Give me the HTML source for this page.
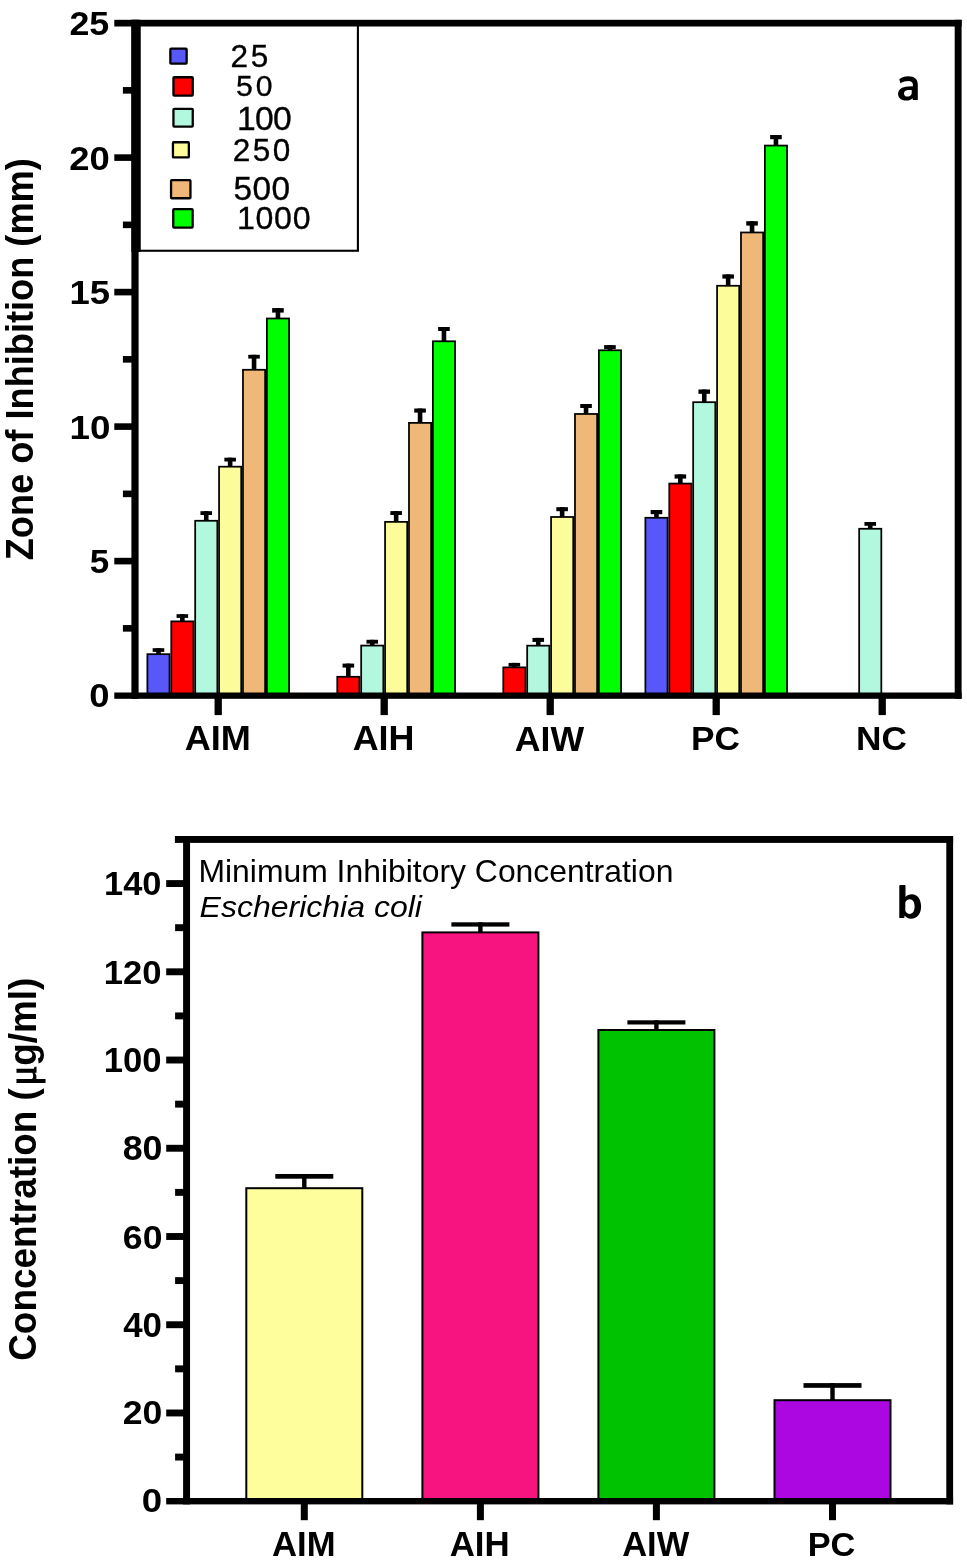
<!DOCTYPE html>
<html><head><meta charset="utf-8"><style>
html,body{margin:0;padding:0;background:#fff;}
svg{display:block;will-change:transform;font-family:"Liberation Sans",sans-serif;}
</style></head><body>
<svg width="967" height="1568" viewBox="0 0 967 1568">
<rect x="0" y="0" width="967" height="1568" fill="#fff"/>
<rect x="156.15" y="648.20" width="4.60" height="6.10" fill="#000"/>
<rect x="152.65" y="648.20" width="11.60" height="3.70" fill="#000"/>
<rect x="147.38" y="654.17" width="22.15" height="42.30" fill="#5757fa" stroke="#000" stroke-width="1.75"/>
<rect x="180.05" y="614.20" width="4.60" height="7.30" fill="#000"/>
<rect x="176.55" y="614.20" width="11.60" height="3.70" fill="#000"/>
<rect x="171.28" y="621.38" width="22.15" height="75.10" fill="#ff0000" stroke="#000" stroke-width="1.75"/>
<rect x="203.95" y="511.20" width="4.60" height="9.70" fill="#000"/>
<rect x="200.45" y="511.20" width="11.60" height="3.80" fill="#000"/>
<rect x="195.18" y="520.77" width="22.15" height="175.70" fill="#b2f8de" stroke="#000" stroke-width="1.75"/>
<rect x="227.85" y="457.70" width="4.60" height="9.10" fill="#000"/>
<rect x="224.35" y="457.70" width="11.60" height="3.80" fill="#000"/>
<rect x="219.07" y="466.68" width="22.15" height="229.80" fill="#fdfc9b" stroke="#000" stroke-width="1.75"/>
<rect x="251.75" y="354.80" width="4.60" height="15.10" fill="#000"/>
<rect x="248.25" y="354.80" width="11.60" height="3.80" fill="#000"/>
<rect x="242.97" y="369.77" width="22.15" height="326.70" fill="#f0b878" stroke="#000" stroke-width="1.75"/>
<rect x="275.65" y="308.10" width="4.60" height="10.50" fill="#000"/>
<rect x="272.15" y="308.10" width="11.60" height="4.50" fill="#000"/>
<rect x="266.88" y="318.48" width="22.15" height="378.00" fill="#00ff00" stroke="#000" stroke-width="1.75"/>
<rect x="346.05" y="663.60" width="4.60" height="13.30" fill="#000"/>
<rect x="342.55" y="663.60" width="11.60" height="4.00" fill="#000"/>
<rect x="337.27" y="676.77" width="22.15" height="19.70" fill="#ff0000" stroke="#000" stroke-width="1.75"/>
<rect x="369.95" y="639.80" width="4.60" height="5.90" fill="#000"/>
<rect x="366.45" y="639.80" width="11.60" height="3.80" fill="#000"/>
<rect x="361.18" y="645.58" width="22.15" height="50.90" fill="#b2f8de" stroke="#000" stroke-width="1.75"/>
<rect x="393.85" y="511.10" width="4.60" height="10.90" fill="#000"/>
<rect x="390.35" y="511.10" width="11.60" height="3.90" fill="#000"/>
<rect x="385.07" y="521.88" width="22.15" height="174.60" fill="#fdfc9b" stroke="#000" stroke-width="1.75"/>
<rect x="417.75" y="408.50" width="4.60" height="14.50" fill="#000"/>
<rect x="414.25" y="408.50" width="11.60" height="4.10" fill="#000"/>
<rect x="408.98" y="422.88" width="22.15" height="273.60" fill="#f0b878" stroke="#000" stroke-width="1.75"/>
<rect x="441.65" y="327.00" width="4.60" height="14.40" fill="#000"/>
<rect x="438.15" y="327.00" width="11.60" height="4.00" fill="#000"/>
<rect x="432.88" y="341.27" width="22.15" height="355.20" fill="#00ff00" stroke="#000" stroke-width="1.75"/>
<rect x="512.05" y="662.90" width="4.60" height="4.60" fill="#000"/>
<rect x="508.55" y="662.90" width="11.60" height="3.70" fill="#000"/>
<rect x="503.28" y="667.38" width="22.15" height="29.10" fill="#ff0000" stroke="#000" stroke-width="1.75"/>
<rect x="535.95" y="637.90" width="4.60" height="7.90" fill="#000"/>
<rect x="532.45" y="637.90" width="11.60" height="4.00" fill="#000"/>
<rect x="527.18" y="645.67" width="22.15" height="50.80" fill="#b2f8de" stroke="#000" stroke-width="1.75"/>
<rect x="559.85" y="507.20" width="4.60" height="9.90" fill="#000"/>
<rect x="556.35" y="507.20" width="11.60" height="4.00" fill="#000"/>
<rect x="551.08" y="516.98" width="22.15" height="179.50" fill="#fdfc9b" stroke="#000" stroke-width="1.75"/>
<rect x="583.75" y="404.00" width="4.60" height="10.10" fill="#000"/>
<rect x="580.25" y="404.00" width="11.60" height="4.00" fill="#000"/>
<rect x="574.98" y="413.98" width="22.15" height="282.50" fill="#f0b878" stroke="#000" stroke-width="1.75"/>
<rect x="607.65" y="345.10" width="4.60" height="5.30" fill="#000"/>
<rect x="604.15" y="345.10" width="11.60" height="3.90" fill="#000"/>
<rect x="598.88" y="350.27" width="22.15" height="346.20" fill="#00ff00" stroke="#000" stroke-width="1.75"/>
<rect x="654.15" y="510.00" width="4.60" height="7.90" fill="#000"/>
<rect x="650.65" y="510.00" width="11.60" height="4.20" fill="#000"/>
<rect x="645.38" y="517.77" width="22.15" height="178.70" fill="#5757fa" stroke="#000" stroke-width="1.75"/>
<rect x="678.05" y="474.40" width="4.60" height="9.30" fill="#000"/>
<rect x="674.55" y="474.40" width="11.60" height="4.20" fill="#000"/>
<rect x="669.27" y="483.57" width="22.15" height="212.90" fill="#ff0000" stroke="#000" stroke-width="1.75"/>
<rect x="701.95" y="389.50" width="4.60" height="12.80" fill="#000"/>
<rect x="698.45" y="389.50" width="11.60" height="4.30" fill="#000"/>
<rect x="693.17" y="402.18" width="22.15" height="294.30" fill="#b2f8de" stroke="#000" stroke-width="1.75"/>
<rect x="725.85" y="274.40" width="4.60" height="11.50" fill="#000"/>
<rect x="722.35" y="274.40" width="11.60" height="4.20" fill="#000"/>
<rect x="717.08" y="285.77" width="22.15" height="410.70" fill="#fdfc9b" stroke="#000" stroke-width="1.75"/>
<rect x="749.75" y="221.20" width="4.60" height="11.40" fill="#000"/>
<rect x="746.25" y="221.20" width="11.60" height="4.40" fill="#000"/>
<rect x="740.98" y="232.47" width="22.15" height="464.00" fill="#f0b878" stroke="#000" stroke-width="1.75"/>
<rect x="773.65" y="135.00" width="4.60" height="10.70" fill="#000"/>
<rect x="770.15" y="135.00" width="11.60" height="4.20" fill="#000"/>
<rect x="764.88" y="145.57" width="22.15" height="550.90" fill="#00ff00" stroke="#000" stroke-width="1.75"/>
<rect x="867.95" y="522.00" width="4.60" height="6.90" fill="#000"/>
<rect x="864.45" y="522.00" width="11.60" height="3.80" fill="#000"/>
<rect x="859.17" y="528.77" width="22.15" height="167.70" fill="#b2f8de" stroke="#000" stroke-width="1.75"/>
<rect x="114.30" y="19.80" width="847.30" height="6.70" fill="#000"/>
<rect x="131.40" y="19.80" width="7.20" height="679.00" fill="#000"/>
<rect x="954.70" y="19.80" width="6.90" height="679.00" fill="#000"/>
<rect x="114.30" y="692.50" width="847.30" height="6.30" fill="#000"/>
<rect x="114.30" y="557.80" width="18.00" height="6.60" fill="#000"/>
<rect x="114.30" y="423.30" width="18.00" height="6.60" fill="#000"/>
<rect x="114.30" y="288.80" width="18.00" height="6.60" fill="#000"/>
<rect x="114.30" y="154.30" width="18.00" height="6.60" fill="#000"/>
<rect x="122.90" y="625.05" width="9.00" height="6.60" fill="#000"/>
<rect x="122.90" y="490.55" width="9.00" height="6.60" fill="#000"/>
<rect x="122.90" y="356.05" width="9.00" height="6.60" fill="#000"/>
<rect x="122.90" y="221.55" width="9.00" height="6.60" fill="#000"/>
<rect x="122.90" y="87.05" width="9.00" height="6.60" fill="#000"/>
<rect x="214.55" y="698.00" width="7.30" height="17.10" fill="#000"/>
<rect x="380.55" y="698.00" width="7.30" height="17.10" fill="#000"/>
<rect x="546.55" y="698.00" width="7.30" height="17.10" fill="#000"/>
<rect x="712.55" y="698.00" width="7.30" height="17.10" fill="#000"/>
<rect x="878.55" y="698.00" width="7.30" height="17.10" fill="#000"/>
<text transform="translate(69.45,34.76) scale(1.0594,1)" font-size="33.80" font-weight="bold" font-style="normal">25</text>
<text transform="translate(69.23,169.86) scale(1.0866,1)" font-size="33.52" font-weight="bold" font-style="normal">20</text>
<text transform="translate(69.43,304.26) scale(1.0818,1)" font-size="33.71" font-weight="bold" font-style="normal">15</text>
<text transform="translate(69.41,439.17) scale(1.1029,1)" font-size="33.38" font-weight="bold" font-style="normal">10</text>
<text transform="translate(89.65,573.16) scale(1.0338,1)" font-size="33.86" font-weight="bold" font-style="normal">5</text>
<text transform="translate(89.24,706.57) scale(1.0911,1)" font-size="33.38" font-weight="bold" font-style="normal">0</text>
<text transform="translate(184.70,750.40) scale(1.0569,1)" font-size="34.20" font-weight="bold" font-style="normal">AIM</text>
<text transform="translate(352.70,750.40) scale(1.0493,1)" font-size="34.20" font-weight="bold" font-style="normal">AIH</text>
<text transform="translate(514.81,750.50) scale(1.0355,1)" font-size="34.49" font-weight="bold" font-style="normal">AIW</text>
<text transform="translate(690.91,750.46) scale(1.0354,1)" font-size="34.08" font-weight="bold" font-style="normal">PC</text>
<text transform="translate(856.11,750.46) scale(1.0345,1)" font-size="34.08" font-weight="bold" font-style="normal">NC</text>
<text transform="translate(33.10,560.29) rotate(-90) scale(0.9169,1)" font-size="39.50" font-weight="bold">Zone of Inhibition (mm)</text>
<path fill-rule="evenodd" fill="#000" d="M899.3 79.3C901.6 77.2 904.6 76.2 908.2 76.2C914.6 76.2 917.8 79.2 917.8 84.6L917.8 100.0L912.9 100.0L912.7 98.2C911.2 99.7 909.0 100.5 906.0 100.5C901.2 100.5 898.1 97.9 898.1 94.0C898.1 89.3 901.8 86.8 908.0 86.4L912.9 86.2L912.9 84.8C912.9 82.2 911.2 81.0 908.2 81.0C905.6 81.0 903.0 81.8 900.4 83.2Z M911.7 90.0C909.8 89.8 907.6 89.9 906.2 90.4C904.7 91.0 904.0 92.1 904.0 93.4C904.0 95.3 905.3 96.6 907.3 96.6C909.6 96.6 911.4 95.2 911.7 93.4Z"/>
<rect x="139.45" y="24.00" width="218.45" height="226.75" fill="none" stroke="#000" stroke-width="2.1"/>
<rect x="131.40" y="19.80" width="9.10" height="232.10" fill="#000"/>
<rect x="170.35" y="48.65" width="16.30" height="14.90" rx="0.8" fill="#5757fa" stroke="#000" stroke-width="2.3"/>
<rect x="173.45" y="77.25" width="19.30" height="18.40" rx="0.8" fill="#ff0000" stroke="#000" stroke-width="2.3"/>
<rect x="173.45" y="108.85" width="19.30" height="17.80" rx="0.8" fill="#b2f8de" stroke="#000" stroke-width="2.3"/>
<rect x="172.95" y="142.25" width="15.90" height="15.20" rx="0.8" fill="#fdfc9b" stroke="#000" stroke-width="2.3"/>
<rect x="171.05" y="180.15" width="19.40" height="18.10" rx="0.8" fill="#f0b878" stroke="#000" stroke-width="2.3"/>
<rect x="173.25" y="209.15" width="19.40" height="18.50" rx="0.8" fill="#00ff00" stroke="#000" stroke-width="2.3"/>
<text stroke="#000" stroke-width="0.35" x="230.42" y="67.18" font-size="31.55" letter-spacing="2.72" font-weight="normal" font-style="normal">25</text>
<text stroke="#000" stroke-width="0.35" x="235.89" y="96.00" font-size="30.14" letter-spacing="3.20" font-weight="normal" font-style="normal">50</text>
<text stroke="#000" stroke-width="0.35" x="236.88" y="129.66" font-size="33.66" letter-spacing="-0.67" font-weight="normal" font-style="normal">100</text>
<text stroke="#000" stroke-width="0.35" x="232.72" y="160.68" font-size="31.55" letter-spacing="2.48" font-weight="normal" font-style="normal">250</text>
<text stroke="#000" stroke-width="0.35" x="233.46" y="200.37" font-size="33.38" letter-spacing="0.46" font-weight="normal" font-style="normal">500</text>
<text stroke="#000" stroke-width="0.35" x="236.99" y="229.28" font-size="32.11" letter-spacing="0.71" font-weight="normal" font-style="normal">1000</text>
<rect x="302.10" y="1174.00" width="4.40" height="14.20" fill="#000"/>
<rect x="275.30" y="1174.00" width="58.00" height="4.70" fill="#000"/>
<rect x="246.30" y="1188.20" width="116.00" height="314.00" fill="#fffe9c" stroke="#000" stroke-width="2"/>
<rect x="478.20" y="922.30" width="4.40" height="10.10" fill="#000"/>
<rect x="451.40" y="922.30" width="58.00" height="4.30" fill="#000"/>
<rect x="422.40" y="932.40" width="116.00" height="569.80" fill="#f71480" stroke="#000" stroke-width="2"/>
<rect x="654.20" y="1020.30" width="4.40" height="9.70" fill="#000"/>
<rect x="627.40" y="1020.30" width="58.00" height="4.20" fill="#000"/>
<rect x="598.40" y="1030.00" width="116.00" height="472.20" fill="#00c200" stroke="#000" stroke-width="2"/>
<rect x="830.30" y="1383.10" width="4.40" height="17.10" fill="#000"/>
<rect x="803.50" y="1383.10" width="58.00" height="4.70" fill="#000"/>
<rect x="774.50" y="1400.20" width="116.00" height="102.00" fill="#ac06e1" stroke="#000" stroke-width="2"/>
<rect x="174.90" y="836.00" width="778.20" height="6.90" fill="#000"/>
<rect x="183.10" y="836.00" width="6.95" height="668.40" fill="#000"/>
<rect x="946.30" y="836.00" width="6.80" height="668.40" fill="#000"/>
<rect x="166.20" y="1498.00" width="786.90" height="6.40" fill="#000"/>
<rect x="166.20" y="1409.52" width="18.00" height="6.90" fill="#000"/>
<rect x="166.20" y="1321.28" width="18.00" height="6.90" fill="#000"/>
<rect x="166.20" y="1233.05" width="18.00" height="6.90" fill="#000"/>
<rect x="166.20" y="1144.81" width="18.00" height="6.90" fill="#000"/>
<rect x="166.20" y="1056.58" width="18.00" height="6.90" fill="#000"/>
<rect x="166.20" y="968.35" width="18.00" height="6.90" fill="#000"/>
<rect x="166.20" y="880.11" width="18.00" height="6.90" fill="#000"/>
<rect x="175.10" y="1453.63" width="9.00" height="6.90" fill="#000"/>
<rect x="175.10" y="1365.40" width="9.00" height="6.90" fill="#000"/>
<rect x="175.10" y="1277.16" width="9.00" height="6.90" fill="#000"/>
<rect x="175.10" y="1188.93" width="9.00" height="6.90" fill="#000"/>
<rect x="175.10" y="1100.70" width="9.00" height="6.90" fill="#000"/>
<rect x="175.10" y="1012.46" width="9.00" height="6.90" fill="#000"/>
<rect x="175.10" y="924.23" width="9.00" height="6.90" fill="#000"/>
<rect x="300.80" y="1504.00" width="7.00" height="16.20" fill="#000"/>
<rect x="476.90" y="1504.00" width="7.00" height="16.20" fill="#000"/>
<rect x="652.90" y="1504.00" width="7.00" height="16.20" fill="#000"/>
<rect x="829.00" y="1504.00" width="7.00" height="16.20" fill="#000"/>
<text transform="translate(104.07,895.46) scale(1.0255,1)" font-size="33.52" font-weight="bold" font-style="normal">140</text>
<text transform="translate(103.75,983.76) scale(1.0161,1)" font-size="34.08" font-weight="bold" font-style="normal">120</text>
<text transform="translate(103.75,1071.86) scale(1.0119,1)" font-size="34.23" font-weight="bold" font-style="normal">100</text>
<text transform="translate(122.63,1160.15) scale(1.0366,1)" font-size="34.51" font-weight="bold" font-style="normal">80</text>
<text transform="translate(122.86,1248.76) scale(1.0475,1)" font-size="33.94" font-weight="bold" font-style="normal">60</text>
<text transform="translate(123.18,1336.76) scale(1.0150,1)" font-size="34.37" font-weight="bold" font-style="normal">40</text>
<text transform="translate(122.76,1424.46) scale(1.0519,1)" font-size="33.80" font-weight="bold" font-style="normal">20</text>
<text transform="translate(141.73,1512.16) scale(1.0882,1)" font-size="33.66" font-weight="bold" font-style="normal">0</text>
<text transform="translate(272.03,1556.00) scale(1.0132,1)" font-size="34.20" font-weight="bold" font-style="normal">AIM</text>
<text transform="translate(449.63,1556.00) scale(1.0206,1)" font-size="34.20" font-weight="bold" font-style="normal">AIH</text>
<text transform="translate(622.14,1556.00) scale(1.0049,1)" font-size="34.35" font-weight="bold" font-style="normal">AIW</text>
<text transform="translate(807.67,1555.96) scale(1.0166,1)" font-size="33.80" font-weight="bold" font-style="normal">PC</text>
<text transform="translate(35.80,1360.78) rotate(-90) scale(0.9342,1)" font-size="39.50" font-weight="bold">Concentration (<tspan dx="0.07em" font-family="Liberation Serif" font-weight="normal" stroke="#000" stroke-width="1.1">&#956;</tspan>g/ml)</text>
<text transform="translate(198.45,882.06) scale(1.0249,1)" font-size="31.12" font-weight="normal" font-style="normal">Minimum Inhibitory Concentration</text>
<text transform="translate(199.54,917.00) scale(1.0697,1)" font-size="29.93" font-weight="normal" font-style="italic">Escherichia coli</text>
<path fill-rule="evenodd" fill="#000" d="M899.3 885.8Q899.3 884.9 900.3 884.9L904.5 884.9Q905.5 884.9 905.5 885.8L905.5 897.0C907.0 895.0 909.3 894.2 912.0 894.2C917.5 894.2 921.1 899.5 921.1 906.5C921.1 913.8 917.2 918.7 911.0 918.7C908.2 918.7 905.9 917.5 904.6 915.5L904.3 918.0L899.3 918.0Z M905.3 902.5C906.2 900.3 907.8 899.2 909.8 899.2C912.8 899.2 914.6 902.0 914.6 906.6C914.6 911.2 912.7 913.9 909.8 913.9C907.6 913.9 906.0 912.7 905.3 910.5Z"/>
</svg></body></html>
